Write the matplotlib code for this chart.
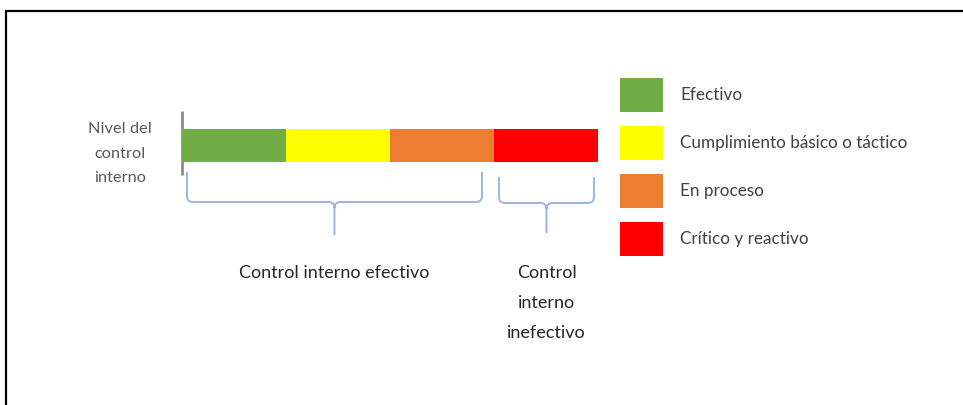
import matplotlib
matplotlib.use("Agg")
import matplotlib.pyplot as plt
from matplotlib.path import Path
from matplotlib.patches import PathPatch
from matplotlib.transforms import IdentityTransform

plt.rcParams['font.family'] = ['Lato', 'DejaVu Sans']

# Control levels, their share of the scale and their colours
levels = ["Efectivo", "Cumplimiento básico o táctico", "En proceso", "Crítico y reactivo"]
shares = [1, 1, 1, 1]
colors = ["#70AD47", "#FFFF00", "#ED7D31", "#FF0000"]

axis_label = "Nivel del\ncontrol\ninterno"
# Groups of levels covered by each brace (start index, end index exclusive)
groups = [(0, 3), (3, 4)]
group_labels = ["Control interno efectivo", "Control\ninterno\ninefectivo"]

W, H, DPI = 963, 405, 100
fig = plt.figure(figsize=(W / DPI, H / DPI), dpi=DPI)

# Full-figure canvas in pixel units (y grows downward)
canvas = fig.add_axes([0, 0, 1, 1])
canvas.set_xlim(0, W)
canvas.set_ylim(H, 0)
canvas.axis("off")

# Stacked bar scale
bx0, bx1, by0, by1 = 182, 598, 129, 162
ax = fig.add_axes([bx0 / W, 1 - by1 / H, (bx1 - bx0) / W, (by1 - by0) / H])
left = 0
for lvl, s, c in zip(levels, shares, colors):
    ax.barh(0, s, left=left, height=1, color=c, label=lvl, linewidth=0)
    left += s
ax.set_xlim(0, sum(shares))
ax.set_ylim(-0.5, 0.5)
ax.axis("off")

# Frame lines
canvas.plot([5, W + 2], [11, 11], color="black", lw=1.6, solid_capstyle="butt")
canvas.plot([6, 6], [11, H + 2], color="black", lw=1.6, solid_capstyle="butt")

# Vertical axis marker at the start of the scale
canvas.plot([bx0, bx0], [111, 175], color="#7F7F7F", lw=1.8, solid_capstyle="butt")
canvas.text(120, 153.5, axis_label, ha="center", va="center", fontsize=11.8,
            color="#595959", linespacing=1.95)


def to_px(xdata):
    return ax.transData.transform((xdata, 0))[0]


cum = [0]
for s in shares:
    cum.append(cum[-1] + s)


def brace(x0, x1, yt, yh, yb, r=6):
    xm = (x0 + x1) / 2
    verts = [(x0, yt), (x0, yh - r), (x0, yh), (x0 + r, yh),
             (xm - r, yh), (xm, yh), (xm, yh + r), (xm, yb),
             (xm, yh + r), (xm, yh), (xm + r, yh),
             (x1 - r, yh), (x1, yh), (x1, yh - r), (x1, yt)]
    codes = [Path.MOVETO, Path.LINETO, Path.CURVE3, Path.CURVE3,
             Path.LINETO, Path.CURVE3, Path.CURVE3, Path.LINETO,
             Path.MOVETO, Path.CURVE3, Path.CURVE3,
             Path.LINETO, Path.CURVE3, Path.CURVE3, Path.LINETO]
    canvas.add_patch(PathPatch(Path(verts, codes), fill=False,
                               edgecolor="#9DB5E0", lw=1.4))
    return xm


brace_rows = [(172, 202, 235), (177, 203, 233)]
for (i0, i1), lab, (yt, yh, yb) in zip(groups, group_labels, brace_rows):
    x0 = to_px(cum[i0]) + 5
    x1 = to_px(cum[i1]) - (12 if i1 < len(shares) else 4)
    xm = brace(x0, x1, yt, yh, yb)
    canvas.text(xm, 265, lab, ha="center", va="top", fontsize=13,
                color="#262626", linespacing=2.07)

# Legend with large colour squares (sizes worked out in pixels)
fs = 12.3
fpx = fs * DPI / 72
sq_w, sq_h, pitch = 43, 34, 48
hh = (sq_h / fpx - 0.245) / 0.65
ax.legend(loc="upper left", bbox_to_anchor=(620, H - 78),
          bbox_transform=IdentityTransform(), frameon=False, fontsize=fs,
          handlelength=sq_w / fpx, handleheight=hh,
          labelspacing=(pitch - sq_h) / fpx, handletextpad=17 / fpx,
          borderpad=0, borderaxespad=0, labelcolor="#404040")

fig.savefig("out.png", dpi=DPI)
